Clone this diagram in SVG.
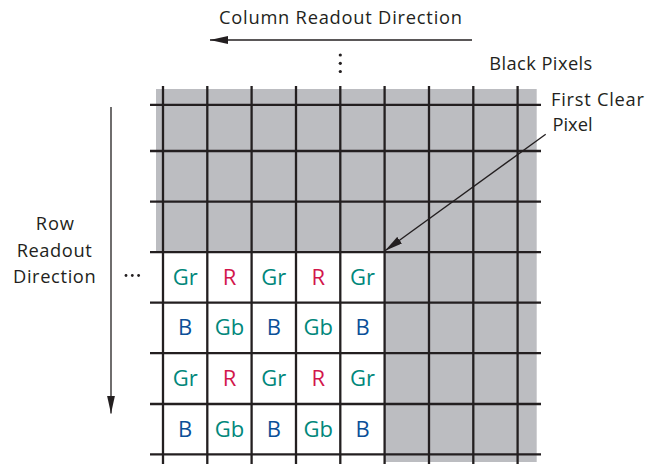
<svg xmlns="http://www.w3.org/2000/svg" width="645" height="464" viewBox="0 0 645 464">
<style>
.t{font-family:"Open Sans","Liberation Sans",sans-serif;fill:#231f20;font-size:18.3px}
.b{font-family:"Open Sans","Liberation Sans",sans-serif;font-size:22px;text-anchor:middle}
.g{fill:#00877b}.r{fill:#d2164b}.bl{fill:#0b4f98}
.grid line{stroke:#231f20;stroke-width:2.3}
.ln{stroke:#231f20;stroke-width:1.3;fill:none}
</style>
<defs>
<marker id="ah" viewBox="0 0 18 8" refX="18" refY="4" markerWidth="18" markerHeight="8" markerUnits="userSpaceOnUse" orient="auto">
<path d="M0,0 L18,4 L0,8 Z" fill="#231f20"/>
</marker>
</defs>
<rect width="645" height="464" fill="#fff"/>
<g id="black-pixels-area">
<path d="M156,89 H536.7 V462 H384.6 V252 H156 Z" fill="#bcbdc1"/>
</g>
<g id="grid" class="grid">
<line x1="163" y1="86" x2="163" y2="464"/>
<line x1="207.3" y1="86" x2="207.3" y2="464"/>
<line x1="251.6" y1="86" x2="251.6" y2="464"/>
<line x1="296" y1="86" x2="296" y2="464"/>
<line x1="340.3" y1="86" x2="340.3" y2="464"/>
<line x1="384.6" y1="86" x2="384.6" y2="464"/>
<line x1="429" y1="86" x2="429" y2="464"/>
<line x1="473.3" y1="86" x2="473.3" y2="464"/>
<line x1="517.6" y1="86" x2="517.6" y2="464"/>
<line x1="150" y1="104.8" x2="541" y2="104.8"/>
<line x1="150" y1="151" x2="541" y2="151"/>
<line x1="150" y1="201.6" x2="541" y2="201.6"/>
<line x1="150" y1="252.2" x2="541" y2="252.2"/>
<line x1="150" y1="302.6" x2="541" y2="302.6"/>
<line x1="150" y1="353.2" x2="541" y2="353.2"/>
<line x1="150" y1="404" x2="541" y2="404"/>
<line x1="150" y1="454.4" x2="541" y2="454.4"/>
</g>
<g id="bayer">
<text class="b g" x="185.2" y="284.5">Gr</text>
<text class="b r" x="229.5" y="284.5">R</text>
<text class="b g" x="273.8" y="284.5">Gr</text>
<text class="b r" x="318.2" y="284.5">R</text>
<text class="b g" x="362.5" y="284.5">Gr</text>
<text class="b bl" x="185.2" y="335">B</text>
<text class="b g" x="229.5" y="335">Gb</text>
<text class="b bl" x="273.8" y="335">B</text>
<text class="b g" x="318.2" y="335">Gb</text>
<text class="b bl" x="362.5" y="335">B</text>
<text class="b g" x="185.2" y="385.7">Gr</text>
<text class="b r" x="229.5" y="385.7">R</text>
<text class="b g" x="273.8" y="385.7">Gr</text>
<text class="b r" x="318.2" y="385.7">R</text>
<text class="b g" x="362.5" y="385.7">Gr</text>
<text class="b bl" x="185.2" y="436.5">B</text>
<text class="b g" x="229.5" y="436.5">Gb</text>
<text class="b bl" x="273.8" y="436.5">B</text>
<text class="b g" x="318.2" y="436.5">Gb</text>
<text class="b bl" x="362.5" y="436.5">B</text>
</g>
<g id="connectors">
<line class="ln" x1="472" y1="40" x2="210" y2="40" marker-end="url(#ah)"/>
<line class="ln" x1="111" y1="107" x2="111" y2="413.5" marker-end="url(#ah)"/>
<line class="ln" x1="545.7" y1="134.3" x2="385" y2="250.7" marker-end="url(#ah)"/>
</g>
<g id="labels">
<text class="t" x="219" y="24" textLength="243" lengthAdjust="spacing">Column Readout Direction</text>
<text class="t" x="489.3" y="70" textLength="103" lengthAdjust="spacing">Black Pixels</text>
<text class="t" x="551" y="105.7" textLength="93" lengthAdjust="spacing">First Clear</text>
<text class="t" x="552.5" y="130.7" textLength="40" lengthAdjust="spacing">Pixel</text>
<text class="t" x="35.7" y="230" textLength="38.3" lengthAdjust="spacing">Row</text>
<text class="t" x="16.7" y="256.7" textLength="75" lengthAdjust="spacing">Readout</text>
<text class="t" x="13" y="283.3" textLength="82.7" lengthAdjust="spacing">Direction</text>
</g>
<g id="ellipses" fill="#231f20">
<circle cx="340.3" cy="55" r="1.6"/>
<circle cx="340.3" cy="63.3" r="1.6"/>
<circle cx="340.3" cy="71.5" r="1.6"/>
<circle cx="126" cy="275.5" r="1.4"/>
<circle cx="132.3" cy="275.5" r="1.4"/>
<circle cx="138.6" cy="275.5" r="1.4"/>
</g>
</svg>
